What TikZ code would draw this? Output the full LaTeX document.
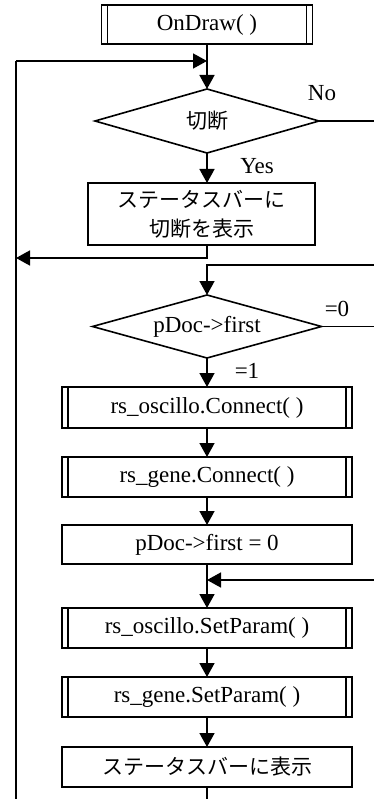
\documentclass[tikz,border=0pt]{standalone}
\usepackage{fontspec}
\setmainfont{Liberation Serif}
\newfontfamily\jp{Noto Sans CJK JP}
\usetikzlibrary{shapes.geometric,arrows.meta}
\begin{document}
\begin{tikzpicture}[x=1pt,y=-1pt,
  line width=1.6pt,
  txt/.style={font=\fontsize{23}{27}\selectfont},
  jtxt/.style={font=\jp\fontsize{21}{29}\selectfont},
  box/.style={draw, rectangle, inner sep=0pt, outer sep=0pt, align=center, minimum width=290pt},
  dec/.style={draw, diamond, aspect=3.6, inner sep=0pt, outer sep=0pt},
  arr/.style={-{Triangle[length=14pt,width=15pt]}},
  lbl/.style={txt, inner sep=0pt}
]
\useasboundingbox (0,0) rectangle (374,799);

\node[box, txt, minimum width=211pt, minimum height=39pt] (ondraw) at (207,24.5) {OnDraw( )};
\node[dec, jtxt, minimum width=224pt, minimum height=64pt] (d1) at (207,121) {切断};
\node[box, jtxt, minimum width=227pt, minimum height=62pt] (b2) at (201.5,214) {ステータスバーに\\切断を表示};
\node[dec, txt, minimum width=229pt, minimum height=63pt] (d2) at (207,326.5) {pDoc->first};
\node[box, txt, minimum height=41pt] (b3) at (207,407.5) {rs\_oscillo.Connect( )};
\node[box, txt, minimum height=40pt] (b4) at (207,477) {rs\_gene.Connect( )};
\node[box, txt, minimum height=39pt] (b5) at (207,544.5) {pDoc->first = 0};
\node[box, txt, minimum height=40pt] (b6) at (207,628) {rs\_oscillo.SetParam( )};
\node[box, txt, minimum height=40pt] (b7) at (207,697) {rs\_gene.SetParam( )};
\node[box, jtxt, minimum height=40pt] (b8) at (207,767) {ステータスバーに表示};

\foreach \n in {ondraw,b3,b4,b6,b7}{
  \draw[line width=1.2pt] ([xshift=6pt]\n.north west) -- ([xshift=6pt]\n.south west);
  \draw[line width=1.2pt] ([xshift=-6pt]\n.north east) -- ([xshift=-6pt]\n.south east);
}

\node[lbl] (no) at (322,93) {No};
\node[lbl] (yes) at (257,166) {Yes};
\node[lbl] (eq0) at (337,309) {=0};
\node[lbl] (eq1) at (247,371) {=1};

\coordinate (Ltop) at (16,61);
\coordinate (Lbot) at (16,799);
\coordinate (j1) at (207,61);
\coordinate (r1) at (374,121);
\coordinate (j2) at (207,258);
\coordinate (Lmid) at (16,258);
\coordinate (r2) at (374,265);
\coordinate (j3) at (207,265);
\coordinate (r3) at (374,326.5);
\coordinate (r4) at (374,580);
\coordinate (j4) at (207,580);
\coordinate (bot) at (207,799);

\draw (Lbot) -- (Ltop);
\draw[arr] (Ltop) -- (j1);
\draw[arr] (ondraw.south) -- (d1.north);
\draw (d1.east) -- (r1);
\draw[arr] (d1.south) -- (d1.south |- b2.north);
\draw[arr] (d1.south |- b2.south) -- (j2) -- (Lmid);
\draw[arr] (r2) -- (j3) -- (d2.north);
\draw (d2.east) -- (r3);
\draw[arr] (d2.south) -- (b3.north);
\draw[arr] (b3.south) -- (b4.north);
\draw[arr] (b4.south) -- (b5.north);
\draw[arr] (b5.south) -- (b6.north);
\draw[arr] (r4) -- (j4);
\draw[arr] (b6.south) -- (b7.north);
\draw[arr] (b7.south) -- (b8.north);
\draw (b8.south) -- (bot);
\end{tikzpicture}
\end{document}
